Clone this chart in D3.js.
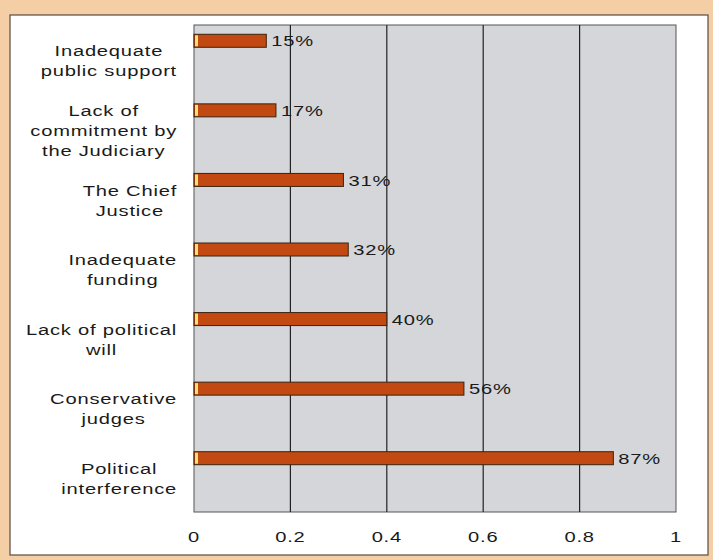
<!DOCTYPE html>
<html><head><meta charset="utf-8">
<script src="https://cdn.jsdelivr.net/npm/d3@7"></script>
<style>body{margin:0;background:#f4cfa6;}svg{display:block;}</style>
</head><body>
<svg id="chart" width="713" height="560"></svg>
<script>
const categories = [
  ["Inadequate","public support"],
  ["Lack of","commitment by","the Judiciary"],
  ["The Chief","Justice"],
  ["Inadequate","funding"],
  ["Lack of political","will"],
  ["Conservative","judges"],
  ["Political","interference"]
];
const values = [0.15, 0.17, 0.31, 0.32, 0.40, 0.56, 0.87];
const valueLabels = ["15%","17%","31%","32%","40%","56%","87%"];
const ticks = [0, 0.2, 0.4, 0.6, 0.8, 1];
const tickLabels = ["0","0.2","0.4","0.6","0.8","1"];

const svg = d3.select("#chart");
const font = "'Liberation Sans', Arial, sans-serif";
const SX = 1.3;
svg.append("rect").attr("width",713).attr("height",560).attr("fill","#f4cfa6");
svg.append("rect").attr("x",10).attr("y",15).attr("width",698).attr("height",540)
  .attr("fill","#ffffff").attr("stroke","#5a4a40").attr("stroke-width",1.2);

const L=194, R=676, T=25, B=512;
const x = d3.scaleLinear().domain([0,1]).range([L,R]);
const y = d3.scaleBand().domain(d3.range(categories.length)).range([T,B]);

svg.append("rect").attr("x",L).attr("y",T).attr("width",R-L).attr("height",B-T)
  .attr("fill","#d5d6d9").attr("stroke","#555").attr("stroke-width",1);

svg.append("g").selectAll("line").data(ticks.slice(1,-1)).join("line")
  .attr("x1",d=>x(d)).attr("x2",d=>x(d)).attr("y1",T).attr("y2",B)
  .attr("stroke","#222").attr("stroke-width",1.2);

function txt(px, py, anchor){
  const g = svg.append("g").attr("transform",`translate(${px},${py}) scale(${SX},1)`);
  return g.append("text").attr("text-anchor",anchor).attr("font-family",font)
    .attr("font-size",15.5).attr("fill","#1a1a1a").attr("letter-spacing","0.6px");
}

const barH = 13, off = -19;
const bars = svg.append("g");
values.forEach((v,i)=>{
  const cy = y(i)+y.bandwidth()/2+off;
  bars.append("rect").attr("x",x(0)).attr("y",cy-barH/2).attr("width",x(v)-x(0)).attr("height",barH)
    .attr("fill","#c24a12").attr("stroke","#3a2210").attr("stroke-width",1);
  bars.append("rect").attr("x",x(0)+1).attr("y",cy-barH/2+1).attr("width",3).attr("height",barH-2)
    .attr("fill","#f5e070");
  txt(x(v)+5, cy, "start").attr("dy","0.36em").text(valueLabels[i]);
});

const labelRight = 177;
categories.forEach((lines,i)=>{
  const cy = y(i)+y.bandwidth()/2 + 1;
  const lh = 20;
  const t = txt(0, cy, "middle");
  let maxW = 0;
  lines.forEach((s,j)=>{
    const ts = t.append("tspan").attr("x",0).attr("y",(j-(lines.length-1)/2)*lh).attr("dy","0.36em").text(s);
    maxW = Math.max(maxW, ts.node().getComputedTextLength());
  });
  const cx = labelRight - maxW*SX/2;
  d3.select(t.node().parentNode).attr("transform",`translate(${cx},${cy}) scale(${SX},1)`);
});

ticks.forEach((d,i)=>{
  txt(x(d), 536, "middle").attr("dy","0.36em").text(tickLabels[i]);
});
</script>
</body></html>
